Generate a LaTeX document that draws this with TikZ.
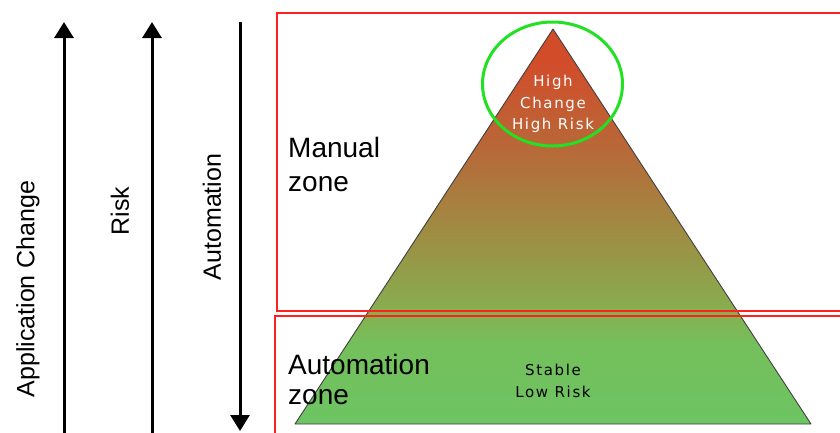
\documentclass[tikz,border=0pt]{standalone}
\usepackage{fontspec}
\setmainfont{Liberation Sans}
\newfontfamily\pixfont[LetterSpace=11]{DejaVu Sans}
\usetikzlibrary{arrows.meta}

\definecolor{pgGreen}{HTML}{6DC462}
\definecolor{pgGreenB}{HTML}{74C05C}
\definecolor{pgOliveA}{HTML}{86B050}
\definecolor{pgOlive}{HTML}{A08A42}
\definecolor{pgBrown}{HTML}{B86838}
\definecolor{pgRed}{HTML}{D24C2A}
\definecolor{zoneRed}{HTML}{FF2020}
\definecolor{ringGreen}{HTML}{22E022}

% vertical colour ramp of the pyramid (25bp = base, 75bp = apex)
\pgfdeclareverticalshading{pyramid}{100bp}{%
  color(0bp)=(pgGreen); color(25bp)=(pgGreen); color(35bp)=(pgGreenB);
  color(39bp)=(pgOliveA); color(50bp)=(pgOlive); color(60bp)=(pgBrown);
  color(71bp)=(pgRed); color(100bp)=(pgRed)}

\tikzset{
  axisarrow/.style={line width=3pt, -{Triangle[width=19pt,length=16pt]}},
  axislabel/.style={rotate=90, font=\fontsize{25}{25}\selectfont, inner sep=0pt},
  zonebox/.style={draw=zoneRed, line width=1.5pt},
  zonelabel/.style={anchor=base west, inner sep=0pt, font=\fontsize{28}{28}\selectfont},
  pyrtext/.style={anchor=base, inner sep=0pt, font=\pixfont\fontsize{15}{15}\selectfont},
  ring/.style={draw=ringGreen, line width=3pt}
}

\begin{document}
\begin{tikzpicture}[x=1pt, y=-1pt]
  \useasboundingbox (0,0) rectangle (840,432);
  \clip (0,0) rectangle (840,432);
  \fill[white] (0,0) rectangle (840,432);

  % axes on the left
  \coordinate (chgBot) at (64,440);
  \coordinate (chgTop) at (64,22);
  \coordinate (riskBot) at (152,440);
  \coordinate (riskTop) at (152,22);
  \coordinate (autoTop) at (240,22);
  \coordinate (autoBot) at (240,431);
  \draw[axisarrow] (chgBot) -- (chgTop);
  \draw[axisarrow] (riskBot) -- (riskTop);
  \draw[axisarrow] (autoTop) -- (autoBot);
  \node[axislabel] (lblChange) at (28,289) {Application Change};
  \node[axislabel] (lblRisk) at (120,211) {Risk};
  \node[axislabel] (lblAuto) at (212,217) {Automation};

  % pyramid
  \coordinate (apex) at (553,29);
  \coordinate (baseL) at (295,424);
  \coordinate (baseR) at (811,424);
  \path[shading=pyramid] (apex) -- (baseR) -- (baseL) -- cycle;
  \draw[draw=black!75, line width=0.9pt, line join=round] (apex) -- (baseR) -- (baseL) -- cycle;

  % zones
  \draw[zonebox] (277,13) rectangle (850,311);
  \draw[zonebox] (275,316) rectangle (850,445);

  \node[zonelabel] (manual1) at (288,157) {Manual};
  \node[zonelabel] (manual2) at (288,191) {zone};
  \node[zonelabel] (auto1) at (288,374) {Automation};
  \node[zonelabel] (auto2) at (288,404) {zone};

  % pyramid labels
  \node[pyrtext, text=white] (hi1) at (553,86) {High};
  \node[pyrtext, text=white] (hi2) at (553,108) {Change};
  \node[pyrtext, text=white] (hi3) at (553,129) {High Risk};
  \node[pyrtext, text=black] (lo1) at (553,375) {Stable};
  \node[pyrtext, text=black] (lo2) at (553,397) {Low Risk};

  % highlight ring round the apex
  \draw[ring] (552.5,84) ellipse [x radius=70, y radius=62];
\end{tikzpicture}
\end{document}
